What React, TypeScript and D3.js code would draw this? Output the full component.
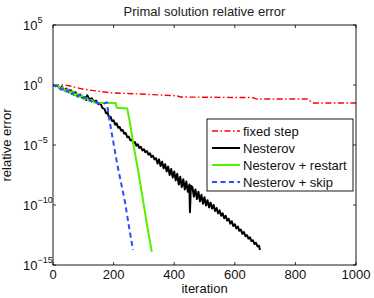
import React from "react";
import * as d3 from "d3";

// [iteration, log10(relative error)]
const fixedStep: [number, number][] = [
  [0, 0], [40, 0], [60, -0.1], [100, -0.35], [145, -0.5], [190, -0.65],
  [287, -0.75], [410, -0.9], [420, -1.0], [660, -1.05], [672, -1.17],
  [840, -1.17], [858, -1.5], [1000, -1.5],
];

const nesterov: [number, number][] = [
  [0, 0], [8, -0.1], [15, 0], [22, -0.3], [30, -0.15], [38, -0.45], [45, -0.3],
  [52, -0.6], [60, -0.45], [68, -0.8], [75, -0.6], [82, -0.95], [90, -0.8],
  [98, -1.1], [105, -1.0], [110, -1.25], [113, -0.85], [120, -1.2], [128, -1.1],
  [135, -1.4], [142, -1.3], [150, -1.6], [157, -1.55], [163, -1.9],
  [170, -2.0], [175, -2.35], [180, -2.3], [185, -2.7], [190, -2.65], [195, -3.0],
  [200, -2.95], [205, -3.3], [210, -3.2], [215, -3.55], [220, -3.5], [225, -3.8],
  [230, -3.75], [235, -4.05], [240, -4.0], [245, -4.35], [250, -4.3], [255, -4.6],
  [260, -4.55], [265, -4.85], [270, -4.75], [275, -5.05], [280, -4.95], [285, -5.25],
  [290, -5.15], [295, -5.45], [300, -5.35], [305, -5.6], [310, -5.5], [315, -5.8],
  [320, -5.7], [325, -6.0], [330, -5.9], [335, -6.2], [340, -6.1], [345, -6.55],
  [350, -6.2], [355, -6.75], [360, -6.4], [365, -6.95], [370, -6.6], [375, -7.2],
  [380, -6.8], [385, -7.5], [390, -7.0], [395, -7.7], [400, -7.2], [405, -7.95],
  [410, -7.4], [415, -8.3], [420, -7.65], [425, -8.5], [430, -7.85], [435, -8.7],
  [440, -8.05], [445, -8.9], [450, -8.3], [452, -10.6], [455, -8.4], [460, -8.5],
  [465, -9.3], [470, -8.7], [475, -9.5], [480, -8.9], [485, -9.7], [490, -9.15],
  [495, -9.9], [500, -9.35], [505, -10.05], [510, -9.6], [515, -10.2], [520, -9.8],
  [525, -10.3], [530, -10.0], [535, -10.5], [540, -10.25], [545, -10.7], [550, -10.45],
  [555, -10.9], [560, -10.7], [565, -11.1], [570, -10.9], [575, -11.3], [580, -11.15],
  [585, -11.55], [590, -11.35], [595, -11.75], [600, -11.6], [605, -11.95], [610, -11.8],
  [615, -12.15], [620, -12.05], [625, -12.4], [630, -12.25], [635, -12.6], [640, -12.5],
  [645, -12.8], [650, -12.7], [655, -13.0], [660, -12.95], [665, -13.25], [670, -13.15],
  [675, -13.45], [680, -13.4], [683, -13.75],
];

const restart: [number, number][] = [
  [0, 0], [8, -0.05], [15, 0], [25, -0.35], [32, -0.2], [40, -0.5], [48, -0.35],
  [56, -0.65], [64, -0.5], [72, -0.85], [80, -0.7], [88, -1.0], [96, -0.9],
  [104, -1.2], [112, -1.1], [120, -1.35], [128, -1.25], [136, -1.45], [145, -1.5],
  [207, -1.5], [210, -1.9], [245, -1.95], [255, -3.3], [265, -4.9], [280, -7.0],
  [297, -9.6], [312, -11.9], [326, -13.9],
];

const skip: [number, number][] = [
  [0, 0], [10, -0.1], [18, -0.05], [28, -0.4], [36, -0.25], [45, -0.55], [54, -0.4],
  [62, -0.75], [70, -0.6], [80, -0.95], [88, -0.8], [96, -1.1], [104, -1.0],
  [112, -1.3], [120, -1.2], [130, -1.45], [140, -1.4], [150, -1.55], [165, -1.6],
  [172, -1.5], [178, -1.45], [182, -2.3], [198, -4.6], [212, -6.6], [238, -9.8],
  [252, -12.0], [264, -13.75],
];

const xTicks = [0, 200, 400, 600, 800, 1000];
const yTickExps = [5, 0, -5, -10, -15];

const series = [
  { name: "fixed step", data: fixedStep, color: "#ff0000", width: 1.4, dash: "6,2.5,1.5,2.5" },
  { name: "Nesterov", data: nesterov, color: "#000000", width: 2, dash: "" },
  { name: "Nesterov + restart", data: restart, color: "#55f000", width: 2, dash: "" },
  { name: "Nesterov + skip", data: skip, color: "#2a4bff", width: 2, dash: "5,3.5" },
];

const W = 374;
const H = 298;
const plot = { left: 53, right: 356, top: 25, bottom: 265 };
const font = "'Liberation Sans', Arial, Helvetica, sans-serif";

export default function App() {
  const x = d3.scaleLinear().domain([0, 1000]).range([plot.left, plot.right]);
  const y = d3.scaleLog().domain([1e-15, 1e5]).range([plot.bottom, plot.top]);

  const line = d3
    .line<[number, number]>()
    .x((d) => x(d[0]))
    .y((d) => y(Math.pow(10, d[1])));

  const legend = { x: 207, y: 119, w: 146, h: 72 };

  return (
    <svg
      width={W}
      height={H}
      style={{ position: "absolute", left: 0, top: 0, background: "#fff" }}
      fontFamily={font}
    >
      <defs>
        <clipPath id="plotClip">
          <rect x={plot.left} y={plot.top} width={plot.right - plot.left} height={plot.bottom - plot.top} />
        </clipPath>
      </defs>
      <rect width={W} height={H} fill="#fff" />

      {/* title */}
      <text x={(plot.left + plot.right) / 2} y={16} textAnchor="middle" fontSize={13} fill="#222">
        Primal solution relative error
      </text>

      {/* ticks */}
      {xTicks.map((t) => (
        <g key={"x" + t}>
          <line x1={x(t)} x2={x(t)} y1={plot.bottom} y2={plot.bottom - 3} stroke="#000" strokeWidth={0.8} />
          <line x1={x(t)} x2={x(t)} y1={plot.top} y2={plot.top + 3} stroke="#000" strokeWidth={0.8} />
          <text x={x(t)} y={279} textAnchor="middle" fontSize={13} fill="#111">
            {t}
          </text>
        </g>
      ))}
      {yTickExps.map((e) => {
        const yy = y(Math.pow(10, e));
        return (
          <g key={"y" + e}>
            <line x1={plot.left} x2={plot.left + 3} y1={yy} y2={yy} stroke="#000" strokeWidth={0.8} />
            <line x1={plot.right} x2={plot.right - 3} y1={yy} y2={yy} stroke="#000" strokeWidth={0.8} />
            <text x={23} y={yy + 5} fontSize={13} fill="#111">
              10
              <tspan dy={-7} fontSize={9}>
                {e < 0 ? "\u2212" + -e : String(e)}
              </tspan>
            </text>
          </g>
        );
      })}

      {/* axis labels */}
      <text x={(plot.left + plot.right) / 2} y={293} textAnchor="middle" fontSize={13} fill="#111">
        iteration
      </text>
      <text
        transform={`translate(11, ${(plot.top + plot.bottom) / 2}) rotate(-90)`}
        textAnchor="middle"
        fontSize={13}
        fill="#111"
      >
        relative error
      </text>

      {/* series */}
      <g clipPath="url(#plotClip)">
        {series.map((s) => (
          <path
            key={s.name}
            d={line(s.data) || ""}
            fill="none"
            stroke={s.color}
            strokeWidth={s.width}
            strokeDasharray={s.dash || undefined}
            strokeLinejoin="round"
          />
        ))}
      </g>

      {/* axes box */}
      <rect
        x={plot.left}
        y={plot.top}
        width={plot.right - plot.left}
        height={plot.bottom - plot.top}
        fill="none"
        stroke="#000"
        strokeWidth={0.9}
      />

      {/* legend */}
      <rect x={legend.x} y={legend.y} width={legend.w} height={legend.h} fill="#fff" stroke="#000" strokeWidth={0.9} />
      {series.map((s, i) => {
        const ly = legend.y + 12 + i * 17;
        return (
          <g key={"lg" + s.name}>
            <line
              x1={legend.x + 5}
              x2={legend.x + 33}
              y1={ly}
              y2={ly}
              stroke={s.color}
              strokeWidth={s.width}
              strokeDasharray={s.dash || undefined}
            />
            <text x={legend.x + 36} y={ly + 4.5} fontSize={13} fill="#111">
              {s.name}
            </text>
          </g>
        );
      })}
    </svg>
  );
}
